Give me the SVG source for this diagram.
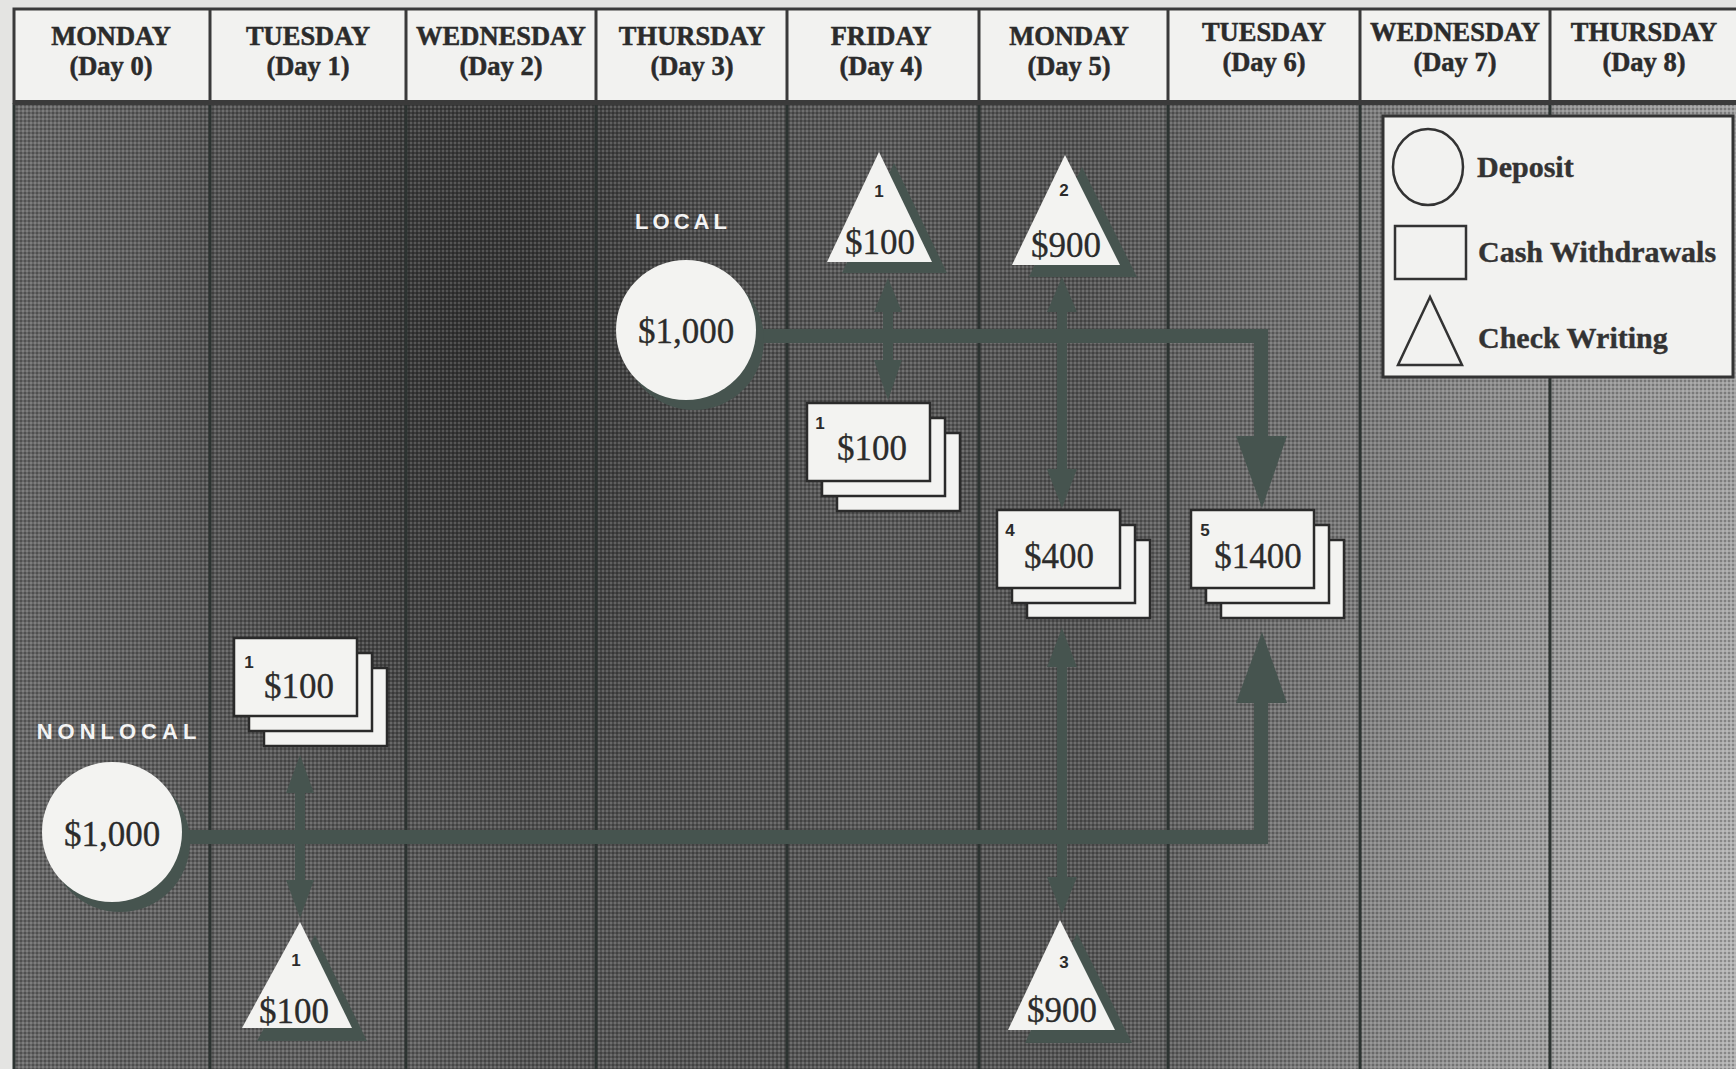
<svg xmlns="http://www.w3.org/2000/svg" width="1736" height="1069" viewBox="0 0 1736 1069">
<defs>
<style>
.hdr{font-family:"Liberation Serif",serif;font-weight:bold;font-size:26.5px;fill:#2b2b2b;stroke:#2b2b2b;stroke-width:0.5;text-anchor:middle}
.amt{font-family:"Liberation Serif",serif;font-size:35px;fill:#2b2b2b;stroke:#2b2b2b;stroke-width:0.3;text-anchor:middle}
.num{font-family:"Liberation Sans",sans-serif;font-weight:bold;font-size:17px;fill:#2b2b2b;text-anchor:middle}
.lbl{font-family:"Liberation Sans",sans-serif;font-weight:bold;font-size:22px;fill:#f4f4f4;letter-spacing:4px;text-anchor:middle}
.leg{font-family:"Liberation Serif",serif;font-weight:bold;font-size:30px;fill:#333;stroke:#333;stroke-width:0.4}
.div{stroke:#2c3331;stroke-width:3}
.hdiv{stroke:#3a3a3a;stroke-width:3}
.card{fill:#f3f3f1;stroke:#2a2a2a;stroke-width:2.5}
.tri{fill:#f3f3f1}
.shadow{fill:#46544f}
.conn{fill:none;stroke:#46544f;stroke-linejoin:miter}
.head{fill:#46544f}
</style>
<linearGradient id="bgx" x1="13" y1="0" x2="1736" y2="0" gradientUnits="userSpaceOnUse">
<stop offset="0" stop-color="#686868"/>
<stop offset="0.1" stop-color="#5a5a5a"/>
<stop offset="0.2" stop-color="#4c4c4c"/>
<stop offset="0.3" stop-color="#474747"/>
<stop offset="0.4" stop-color="#525252"/>
<stop offset="0.5" stop-color="#585858"/>
<stop offset="0.62" stop-color="#545454"/>
<stop offset="0.72" stop-color="#6c6c6c"/>
<stop offset="0.85" stop-color="#8a8a8a"/>
<stop offset="1" stop-color="#a0a0a0"/>
</linearGradient>
<radialGradient id="dark" cx="0" cy="0" r="1" gradientUnits="userSpaceOnUse" gradientTransform="translate(470,330) scale(330,480)">
<stop offset="0" stop-color="#000" stop-opacity="0.3"/>
<stop offset="1" stop-color="#000" stop-opacity="0"/>
</radialGradient>
<radialGradient id="light" cx="1680" cy="950" r="500" gradientUnits="userSpaceOnUse">
<stop offset="0" stop-color="#fff" stop-opacity="0.22"/>
<stop offset="1" stop-color="#fff" stop-opacity="0"/>
</radialGradient>
<radialGradient id="light2" cx="400" cy="1000" r="350" gradientUnits="userSpaceOnUse">
<stop offset="0" stop-color="#fff" stop-opacity="0.12"/>
<stop offset="1" stop-color="#fff" stop-opacity="0"/>
</radialGradient>
<pattern id="ht" width="4" height="4" patternUnits="userSpaceOnUse">
<circle cx="1" cy="1" r="1" fill="#000" opacity="0.3"/>
<circle cx="3" cy="3" r="0.9" fill="#fff" opacity="0.22"/>
</pattern>
</defs>

<rect x="0" y="0" width="1736" height="1069" fill="#e4e4e2"/>

<g id="background">
<rect x="13" y="103" width="1723" height="966" fill="url(#bgx)"/>
<rect x="13" y="103" width="1723" height="966" fill="url(#dark)"/>
<rect x="13" y="103" width="1723" height="966" fill="url(#light)"/>
<rect x="13" y="103" width="1723" height="966" fill="url(#light2)"/>
<rect x="13" y="103" width="1723" height="966" fill="url(#ht)"/>
<g class="div">
<line x1="14" y1="103" x2="14" y2="1069"/>
<line x1="210" y1="103" x2="210" y2="1069"/>
<line x1="406" y1="103" x2="406" y2="1069"/>
<line x1="596" y1="103" x2="596" y2="1069"/>
<line x1="787" y1="103" x2="787" y2="1069"/>
<line x1="979" y1="103" x2="979" y2="1069"/>
<line x1="1168" y1="103" x2="1168" y2="1069"/>
<line x1="1360" y1="103" x2="1360" y2="1069"/>
<line x1="1550" y1="103" x2="1550" y2="1069"/>
</g>
</g>

<g id="header">
<rect x="14" y="9" width="1724" height="93" fill="#f2f2f0" stroke="#3a3a3a" stroke-width="3"/>
<rect x="13" y="100" width="1723" height="5" fill="#3a3a3a"/>
<g class="hdiv">
<line x1="210" y1="9" x2="210" y2="102"/>
<line x1="406" y1="9" x2="406" y2="102"/>
<line x1="596" y1="9" x2="596" y2="102"/>
<line x1="787" y1="9" x2="787" y2="102"/>
<line x1="979" y1="9" x2="979" y2="102"/>
<line x1="1168" y1="9" x2="1168" y2="102"/>
<line x1="1360" y1="9" x2="1360" y2="102"/>
<line x1="1550" y1="9" x2="1550" y2="102"/>
</g>
<text class="hdr" x="111" y="45">MONDAY</text><text class="hdr" x="111" y="75">(Day 0)</text>
<text class="hdr" x="308" y="45">TUESDAY</text><text class="hdr" x="308" y="75">(Day 1)</text>
<text class="hdr" x="501" y="45">WEDNESDAY</text><text class="hdr" x="501" y="75">(Day 2)</text>
<text class="hdr" x="692" y="45">THURSDAY</text><text class="hdr" x="692" y="75">(Day 3)</text>
<text class="hdr" x="881" y="45">FRIDAY</text><text class="hdr" x="881" y="75">(Day 4)</text>
<text class="hdr" x="1069" y="45">MONDAY</text><text class="hdr" x="1069" y="75">(Day 5)</text>
<text class="hdr" x="1264" y="41">TUESDAY</text><text class="hdr" x="1264" y="71">(Day 6)</text>
<text class="hdr" x="1455" y="41">WEDNESDAY</text><text class="hdr" x="1455" y="71">(Day 7)</text>
<text class="hdr" x="1644" y="41">THURSDAY</text><text class="hdr" x="1644" y="71">(Day 8)</text>
</g>

<g id="connectors">
<path class="conn" stroke-width="14" d="M740 336 H1261 V440"/>
<polygon class="head" points="1236,436 1287,436 1262,508"/>
<line class="conn" stroke-width="10" x1="888" y1="308" x2="888" y2="364"/>
<polygon class="head" points="888,278 874,312 902,312"/>
<polygon class="head" points="874,360 902,360 888,400"/>
<line class="conn" stroke-width="10" x1="1062" y1="308" x2="1062" y2="472"/>
<polygon class="head" points="1062,277 1047,312 1077,312"/>
<polygon class="head" points="1047,469 1077,469 1062,508"/>

<path class="conn" stroke-width="14" d="M170 837 H1261 V698"/>
<polygon class="head" points="1236,703 1287,703 1262,632"/>
<line class="conn" stroke-width="10" x1="300" y1="790" x2="300" y2="884"/>
<polygon class="head" points="300,755 286,793 314,793"/>
<polygon class="head" points="286,880 314,880 300,918"/>
<line class="conn" stroke-width="10" x1="1062" y1="664" x2="1062" y2="880"/>
<polygon class="head" points="1062,628 1047,667 1077,667"/>
<polygon class="head" points="1047,877 1077,877 1062,914"/>
</g>

<g id="label-local"><text class="lbl" x="683" y="229">LOCAL</text></g>
<g id="label-nonlocal"><text class="lbl" x="119" y="739" style="letter-spacing:5px">NONLOCAL</text></g>

<g id="deposit-local">
<circle class="shadow" cx="694" cy="340" r="70"/>
<circle cx="686" cy="330" r="70" fill="#f3f3f1"/>
<text class="amt" x="686" y="343">$1,000</text>
</g>

<g id="deposit-nonlocal">
<circle class="shadow" cx="120" cy="842" r="70"/>
<circle cx="112" cy="832" r="70" fill="#f3f3f1"/>
<text class="amt" x="112" y="846">$1,000</text>
</g>

<g id="check-fri-1">
<polygon class="shadow" points="894,163 842,273 947,273"/>
<polygon class="tri" points="879,152 827,262 932,262"/>
<text class="num" x="879" y="197">1</text>
<text class="amt" x="880" y="254">$100</text>
</g>

<g id="check-mon-2">
<polygon class="shadow" points="1082,167 1029,277 1137,277"/>
<polygon class="tri" points="1065,155 1012,265 1120,265"/>
<text class="num" x="1064" y="196">2</text>
<text class="amt" x="1066" y="257">$900</text>
</g>

<g id="check-tue-1">
<polygon class="shadow" points="315,935 257,1041 367,1041"/>
<polygon class="tri" points="300,922 242,1028 352,1028"/>
<text class="num" x="296" y="966">1</text>
<text class="amt" x="294" y="1023">$100</text>
</g>

<g id="check-mon-3">
<polygon class="shadow" points="1077,933 1025,1043 1132,1043"/>
<polygon class="tri" points="1060,920 1008,1030 1115,1030"/>
<text class="num" x="1064" y="968">3</text>
<text class="amt" x="1062" y="1022">$900</text>
</g>

<g id="cash-tue-1">
<rect class="card" x="264" y="668" width="123" height="78"/>
<rect class="card" x="249" y="653" width="123" height="78"/>
<rect class="card" x="234" y="638" width="123" height="78"/>
<text class="num" x="249" y="668">1</text>
<text class="amt" x="299" y="698">$100</text>
</g>

<g id="cash-fri-1">
<rect class="card" x="837" y="433" width="123" height="78"/>
<rect class="card" x="822" y="418" width="123" height="78"/>
<rect class="card" x="807" y="403" width="123" height="78"/>
<text class="num" x="820" y="429">1</text>
<text class="amt" x="872" y="460">$100</text>
</g>

<g id="cash-mon-4">
<rect class="card" x="1027" y="540" width="123" height="78"/>
<rect class="card" x="1012" y="525" width="123" height="78"/>
<rect class="card" x="997" y="510" width="123" height="78"/>
<text class="num" x="1010" y="536">4</text>
<text class="amt" x="1059" y="568">$400</text>
</g>

<g id="cash-tue-5">
<rect class="card" x="1221" y="540" width="123" height="78"/>
<rect class="card" x="1206" y="525" width="123" height="78"/>
<rect class="card" x="1191" y="510" width="123" height="78"/>
<text class="num" x="1205" y="536">5</text>
<text class="amt" x="1258" y="568">$1400</text>
</g>

<g id="legend">
<rect x="1383" y="116" width="350" height="261" fill="#f2f2f0" stroke="#333" stroke-width="3"/>
<ellipse cx="1428" cy="167" rx="35" ry="38" fill="none" stroke="#333" stroke-width="2.5"/>
<text class="leg" x="1477" y="177">Deposit</text>
<rect x="1395" y="226" width="71" height="53" fill="none" stroke="#333" stroke-width="2.5"/>
<text class="leg" x="1478" y="262">Cash Withdrawals</text>
<polygon points="1430,297 1398,365 1462,365" fill="none" stroke="#333" stroke-width="2.5"/>
<text class="leg" x="1478" y="348">Check Writing</text>
</g>
</svg>
